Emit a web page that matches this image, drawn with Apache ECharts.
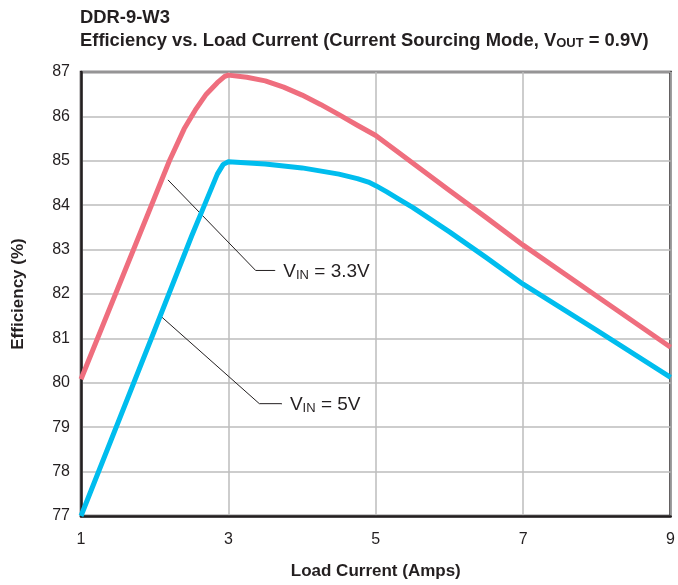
<!DOCTYPE html>
<html>
<head>
<meta charset="utf-8">
<script src="https://cdn.jsdelivr.net/npm/echarts@6/dist/echarts.min.js"></script>
<style>html,body{margin:0;padding:0;background:#fff}#c{width:678px;height:585px}</style>
</head>
<body>
<div id="c"></div>
<script>
// Load current (A) sample points and efficiency (%)
var loadVin33 = [1, 1.5, 2, 2.2, 2.4, 2.55, 2.7, 2.85, 2.95, 3, 3.25, 3.5, 3.75, 4, 4.25, 4.5, 4.75, 5, 5.5, 6, 6.5, 7, 8, 9];
var effVin33  = [80.08, 82.13, 84.18, 85.0, 85.72, 86.14, 86.5, 86.76, 86.9, 86.93, 86.88, 86.8, 86.66, 86.48, 86.27, 86.04, 85.8, 85.57, 84.95, 84.33, 83.72, 83.1, 81.95, 80.8];
var loadVin5  = [1, 2, 2.5, 2.65, 2.75, 2.85, 2.93, 3, 3.5, 4, 4.5, 4.75, 4.9, 5, 5.15, 5.3, 5.5, 6, 6.5, 7, 8, 9];
var effVin5   = [77.0, 81.19, 83.3, 83.9, 84.3, 84.7, 84.92, 84.98, 84.93, 84.84, 84.7, 84.6, 84.52, 84.44, 84.3, 84.15, 83.95, 83.4, 82.82, 82.22, 81.18, 80.12];
var xTicks = [1, 3, 5, 7, 9];
var yTicks = [77, 78, 79, 80, 81, 82, 83, 84, 85, 86, 87];
// annotation leader lines (data coordinates)
var leader33 = [[2.18, 84.57], [3.37, 82.53], [3.63, 82.53]];
var leader5  = [[2.09, 81.49], [3.42, 79.53], [3.72, 79.53]];
var label33 = '3.3V';
var label5 = '5V';

function pairs(xs, ys) { return xs.map(function (x, i) { return [x, ys[i]]; }); }
var FONT = 'Liberation Sans, Arial, Helvetica, sans-serif';
var TXT = '#231f20';

function leaderSeries(pts, val) {
  var data = pts.map(function (p, i) {
    if (i === pts.length - 1) {
      return {
        value: p,
        symbol: 'circle', symbolSize: 1,
        label: {
          show: true, position: 'right', distance: 8,
          formatter: '{v|V}{s|IN}{v| = ' + val + '}',
          rich: {
            v: { fontSize: 19, color: TXT, fontFamily: FONT, verticalAlign: 'bottom', lineHeight: 22 },
            s: { fontSize: 13, color: TXT, fontFamily: FONT, verticalAlign: 'bottom', lineHeight: 20 }
          }
        }
      };
    }
    return { value: p, symbol: 'none' };
  });
  return {
    type: 'line', data: data, symbol: 'circle', symbolSize: 1, showSymbol: true, silent: true, z: 1,
    itemStyle: { color: '#231f20' },
    lineStyle: { color: '#231f20', width: 1 }, animation: false
  };
}

var chart = echarts.init(document.getElementById('c'), null, { renderer: 'canvas' });
chart.setOption({
  animation: false,
  backgroundColor: '#fff',
  title: {
    left: 80, top: 4, padding: 0,
    text: '{b|DDR-9-W3}\n{b|Efficiency vs. Load Current (Current Sourcing Mode, V}{s|OUT}{b| = 0.9V)}',
    textStyle: {
      rich: {
        b: { fontSize: 18.4, fontWeight: 'bold', color: TXT, fontFamily: FONT, lineHeight: 23, verticalAlign: 'bottom' },
        s: { fontSize: 13, fontWeight: 'bold', color: TXT, fontFamily: FONT, lineHeight: 21, verticalAlign: 'bottom' }
      }
    }
  },
  grid: { left: 81, right: 6, top: 72, bottom: 68, show: true, borderColor: '#231f20', borderWidth: 2.5, containLabel: false },
  xAxis: {
    type: 'value', min: xTicks[0], max: xTicks[xTicks.length - 1], interval: 2,
    name: 'Load Current (Amps)', nameLocation: 'middle', nameGap: 47,
    nameTextStyle: { fontSize: 17, fontWeight: 'bold', color: TXT, fontFamily: FONT },
    axisLine: { show: true, lineStyle: { color: '#231f20', width: 2.5 } },
    axisTick: { show: false },
    axisLabel: { margin: 16, fontSize: 16, color: TXT, fontFamily: FONT },
    splitLine: { show: true, lineStyle: { color: '#bcbcbc', width: 1.5 } }
  },
  yAxis: {
    type: 'value', min: yTicks[0], max: yTicks[yTicks.length - 1], interval: 1,
    name: 'Efficiency (%)', nameLocation: 'middle', nameGap: 54, nameRotate: 90,
    nameTextStyle: { fontSize: 17, fontWeight: 'bold', color: TXT, fontFamily: FONT },
    axisLine: { show: true, lineStyle: { color: '#231f20', width: 2.5 } },
    axisTick: { show: false },
    axisLabel: { margin: 11, fontSize: 16, color: TXT, fontFamily: FONT },
    splitLine: { show: true, lineStyle: { color: '#bcbcbc', width: 1.5 } }
  },
  series: [
    leaderSeries(leader33, label33),
    leaderSeries(leader5, label5),
    {
      name: 'VIN = 3.3V', type: 'line', data: pairs(loadVin33, effVin33), symbol: 'none', smooth: false, z: 3,
      lineStyle: { color: '#ef6e7e', width: 5, join: 'round' }, clip: true
    },
    {
      name: 'VIN = 5V', type: 'line', data: pairs(loadVin5, effVin5), symbol: 'none', smooth: false, z: 3,
      lineStyle: { color: '#00bdee', width: 5, join: 'round' }, clip: true
    }
  ]
});
</script>
</body>
</html>
